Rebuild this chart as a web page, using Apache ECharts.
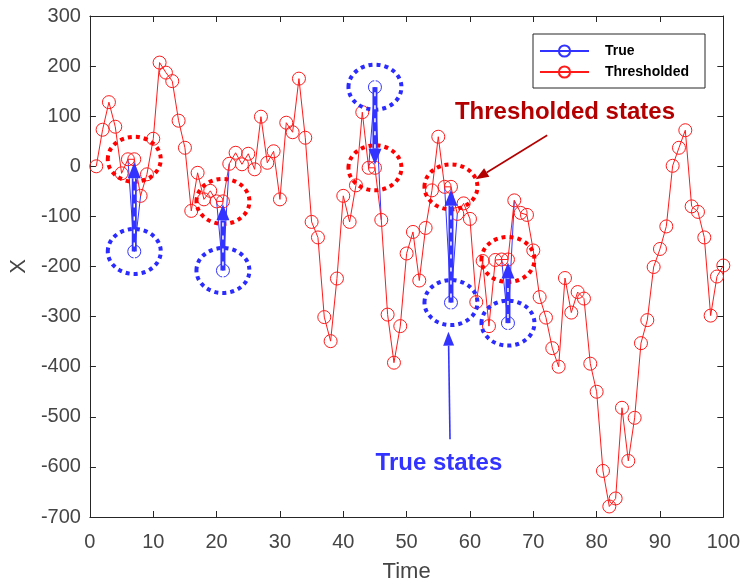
<!DOCTYPE html>
<html>
<head>
<meta charset="utf-8">
<script src="https://cdn.jsdelivr.net/npm/echarts@6/dist/echarts.min.js"></script>
<style>
  html, body { margin: 0; padding: 0; background: #ffffff; }
  #chart { width: 743px; height: 588px; }
</style>
</head>
<body>
<div id="chart"></div>
<script>
// Thresholded state estimate at time steps 1..100
const thresholded = [
  0, 73, 128, 79, -14, 14, 14, -59, -16, 55,
  207, 187, 170, 91, 37, -89, -13, -66, -49, -70,
  -70, 5, 27, 4, 25, -6, 99, 7, 30, -66,
  87, 68, 175, 57, -111, -142, -301, -349, -224, -59,
  -111, -38, 108, -3, -3, -107, -296, -392, -319, -174,
  -131, -228, -123, -48, 59, -41, -41, -95, -74, -105,
  -271, -189, -319, -187, -186, -186, -68, -93, -97, -168,
  -261, -302, -363, -400, -223, -292, -251, -264, -394, -450,
  -608, -679, -663, -482, -588, -502, -353, -307, -201, -165,
  -120, 1, 37, 72, -80, -91, -142, -298, -220, -198
];
// Time steps where the true state differs from the thresholded one
const outlierTimes = [7, 21, 45, 57, 66];
const outlierTrue = [-170, -208, 158, -272, -313];

const xTicks = { min: 0, max: 100, step: 10 };
const yTicks = { min: -700, max: 300, step: 100 };

const time = thresholded.map((_, i) => i + 1);
const trueStates = thresholded.slice();
outlierTimes.forEach((t, k) => { trueStates[t - 1] = outlierTrue[k]; });

// Elsewhere the true curve coincides with the thresholded one and sits hidden
// underneath it, so only the stretches around each outlier are stroked.
const trueVisible = time.map((t, i) =>
  outlierTimes.some(o => Math.abs(o - t) <= 1) ? [t, trueStates[i]] : [t, null]);

const RED = '#ff1a1a';
const BLUE = '#3333ff';
const AXIS = '#262626';
const LABEL = '#454545';
const FONT = '"Liberation Sans", Arial, Helvetica, sans-serif';

function headPoints(tip, from, len, halfW) {
  const dx = tip[0] - from[0], dy = tip[1] - from[1];
  const d = Math.hypot(dx, dy) || 1;
  const ux = dx / d, uy = dy / d;
  const bx = tip[0] - ux * len, by = tip[1] - uy * len;
  return {
    base: [bx, by],
    pts: [[tip[0], tip[1]], [bx - uy * halfW, by + ux * halfW], [bx + uy * halfW, by - ux * halfW]]
  };
}

function thinArrow(from, tip, color, len, halfW, width) {
  const h = headPoints(tip, from, len, halfW);
  return [
    { type: 'line', shape: { x1: from[0], y1: from[1], x2: h.base[0], y2: h.base[1] },
      style: { stroke: color, lineWidth: width } },
    { type: 'polygon', shape: { points: h.pts }, style: { fill: color } }
  ];
}

const chart = echarts.init(document.getElementById('chart'), null, { renderer: 'canvas' });

const axisCommon = {
  type: 'value',
  axisLine: { show: true, onZero: false, lineStyle: { color: AXIS, width: 1 } },
  axisTick: { show: true, inside: true, length: 6, lineStyle: { color: AXIS, width: 1 } },
  splitLine: { show: false }
};

const option = {
  backgroundColor: '#ffffff',
  animation: false,
  grid: { left: 86, right: 19, top: 16, bottom: 69, containLabel: false },
  xAxis: [
    Object.assign({}, axisCommon, {
      min: xTicks.min, max: xTicks.max, interval: xTicks.step,
      position: 'bottom',
      name: 'Time', nameLocation: 'middle', nameGap: 44,
      nameTextStyle: { fontFamily: FONT, fontSize: 22, color: LABEL },
      axisLabel: { margin: 15, fontFamily: FONT, fontSize: 20, color: LABEL }
    }),
    Object.assign({}, axisCommon, {
      min: xTicks.min, max: xTicks.max, interval: xTicks.step,
      position: 'top', axisLabel: { show: false }
    })
  ],
  yAxis: [
    Object.assign({}, axisCommon, {
      min: yTicks.min, max: yTicks.max, interval: yTicks.step,
      position: 'left',
      name: 'X', nameLocation: 'middle', nameGap: 57, nameRotate: 90,
      nameTextStyle: { fontFamily: FONT, fontSize: 22, color: LABEL },
      axisLabel: { margin: 9, fontFamily: FONT, fontSize: 20, color: LABEL }
    }),
    Object.assign({}, axisCommon, {
      min: yTicks.min, max: yTicks.max, interval: yTicks.step,
      position: 'right', axisLabel: { show: false }
    })
  ],
  legend: {
    orient: 'vertical',
    left: 533, top: 34,
    padding: [10, 16, 9, 6],
    itemWidth: 49, itemHeight: 14, itemGap: 7,
    backgroundColor: '#ffffff',
    borderColor: AXIS, borderWidth: 1,
    textStyle: { fontFamily: FONT, fontSize: 14, fontWeight: 'bold', color: '#000000', padding: [0, 0, 0, 11] },
    data: ['True', 'Thresholded']
  },
  series: [
    {
      name: 'True', type: 'line', z: 2,
      data: trueVisible, connectNulls: false,
      // markers only where the true state stands apart from the thresholded one
      symbol: function (value) { return outlierTimes.indexOf(value[0]) >= 0 ? 'circle' : 'none'; },
      symbolSize: 13,
      lineStyle: { color: BLUE, width: 1 },
      itemStyle: { color: 'rgba(255,255,255,0)', borderColor: BLUE, borderWidth: 1 }
    },
    {
      name: 'Thresholded', type: 'line', z: 3,
      data: time.map((t, i) => [t, thresholded[i]]),
      symbol: 'circle', symbolSize: 13,
      lineStyle: { color: RED, width: 1 },
      itemStyle: { color: 'rgba(255,255,255,0)', borderColor: RED, borderWidth: 1 }
    },
    {
      // dotted rings around each true / thresholded pair and the correction arrow between them
      name: 'corrections', type: 'custom', z: 4, silent: true,
      data: outlierTimes.map((t, k) => [t, outlierTrue[k], thresholded[t - 1]]),
      encode: { x: 0, y: [1, 2] },
      renderItem: function (params, api) {
        const pTrue = api.coord([api.value(0), api.value(1)]);
        const pThr = api.coord([api.value(0), api.value(2)]);
        const dir = pThr[1] > pTrue[1] ? 1 : -1;
        const tip = [pThr[0], pThr[1] - dir * 3];
        const h = headPoints(tip, pTrue, 16, 6.5);
        const ring = (c, color) => ({
          type: 'ellipse',
          shape: { cx: c[0], cy: c[1], rx: 26.5, ry: 22.5 },
          style: { fill: null, stroke: color, lineWidth: 4, lineDash: [4, 4], lineCap: 'butt' }
        });
        return {
          type: 'group',
          children: [
            ring(pThr, '#ff0000'),
            ring(pTrue, '#2b2bff'),
            { type: 'line', shape: { x1: pTrue[0], y1: pTrue[1], x2: h.base[0], y2: h.base[1] },
              style: { stroke: BLUE, lineWidth: 5 } },
            { type: 'line', shape: { x1: pTrue[0], y1: pTrue[1] - dir * 8, x2: h.base[0], y2: h.base[1] + dir * 4 },
              style: { stroke: '#ffffff', lineWidth: 1.5, lineDash: [4, 9] } },
            { type: 'polygon', shape: { points: h.pts }, style: { fill: BLUE } }
          ]
        };
      }
    },
    {
      // callout labels
      name: 'callouts', type: 'custom', z: 5, silent: true,
      data: [[0]],
      renderItem: function (params, api) {
        const thrText = api.coord([75.0, 107]);
        const thrFrom = api.coord([72.2, 62]);
        const thrTip = api.coord([60.9, -26]);
        const trueText = api.coord([55.1, -592]);
        const trueFrom = api.coord([56.85, -545]);
        const trueTip = api.coord([56.6, -330]);
        return {
          type: 'group',
          children: [
            { type: 'text', x: thrText[0], y: thrText[1],
              style: { text: 'Thresholded states', fill: '#b30000', font: 'bold 24px ' + FONT,
                       align: 'center', verticalAlign: 'middle' } },
            ...thinArrow(thrFrom, thrTip, '#b30000', 13, 5, 1.6),
            { type: 'text', x: trueText[0], y: trueText[1],
              style: { text: 'True states', fill: BLUE, font: 'bold 24px ' + FONT,
                       align: 'center', verticalAlign: 'middle' } },
            ...thinArrow(trueFrom, trueTip, BLUE, 14, 5.5, 1.6)
          ]
        };
      }
    }
  ]
};

chart.setOption(option);
</script>
</body>
</html>
